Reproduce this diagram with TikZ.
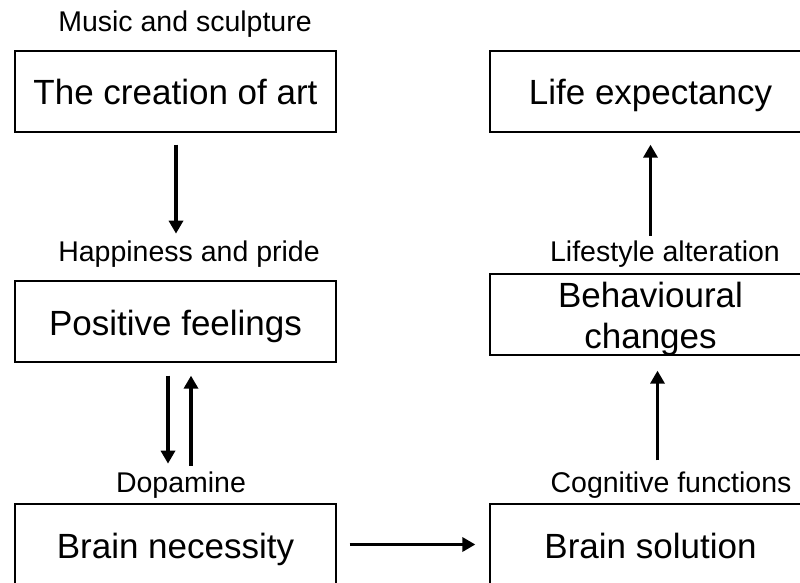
\documentclass[tikz,border=0pt]{standalone}
\usepackage{fontspec}
\setmainfont{Liberation Sans}
\usetikzlibrary{arrows.meta,calc}
\begin{document}
\begin{tikzpicture}[x=1pt,y=-1pt,
  box/.style={draw, line width=1.3pt, minimum width=321pt, minimum height=81pt, inner sep=0pt,
    text height=30pt, text depth=3pt, font=\fontsize{35}{41}\selectfont, align=center},
  lbl/.style={font=\fontsize{28.5}{32}\selectfont, inner sep=0pt, anchor=base},
  arr/.style={line width=3.5pt, -{Triangle[length=13pt,width=14pt]}}]
\useasboundingbox (0,0) rectangle (800,583);
\clip (0,0) rectangle (800,583);
% boxes
\node[box] (art) at (175.5,91.5) {The creation of art};
\node[box] (pos) at (175.5,321.5) {Positive feelings};
\node[box] (nec) at (175.5,544.5) {Brain necessity};
\node[box] (life) at (650.5,91.5) {Life expectancy};
\node[box, text height=70pt] (beh) at (650.5,314.5) {Behavioural\\changes};
\node[box] (sol) at (650.5,544.5) {Brain solution};
% labels
\node[lbl] (music) at (185,32) {Music and sculpture};
\node[lbl] (happy) at (189,261) {Happiness and pride};
\node[lbl] (dopa) at (181,492) {Dopamine};
\node[lbl] (life2) at (665,261) {Lifestyle alteration};
\node[lbl] (cogn) at (671,492) {Cognitive functions};
% arrows
\draw[arr] ($(art.south)+(0.5,12)$) -- ($(art.south)+(0.5,101)$);
\draw[arr] ($(pos.south)+(-7.5,13)$) -- ($(pos.south)+(-7.5,101)$);
\draw[arr] ($(pos.south)+(15.5,103)$) -- ($(pos.south)+(15.5,13)$);
\draw[arr] ($(nec.east)+(13,0)$) -- ($(sol.west)+(-14,0)$);
\draw[arr] ($(sol.north)+(7,-43)$) -- ($(beh.south)+(7,15)$);
\draw[arr] ($(life.south)+(0,103)$) -- ($(life.south)+(0,12)$);
\end{tikzpicture}
\end{document}
